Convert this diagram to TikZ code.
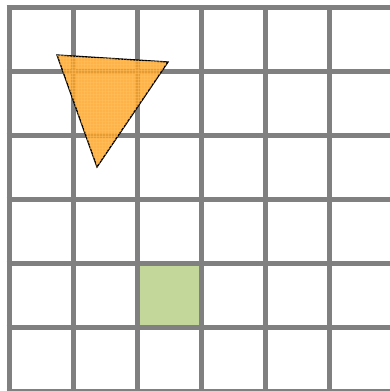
\documentclass[tikz,border=0pt]{standalone}
\usepackage{tikz}
\usetikzlibrary{patterns}
\definecolor{gridgray}{HTML}{808080}
\definecolor{cellgreen}{HTML}{C4D79B}
\definecolor{triorange}{HTML}{FFA11F}
\definecolor{lightorange}{HTML}{FFC060}
\tikzset{
  gridline/.style={draw=gridgray, line width=5pt},
  cell/.style={fill=cellgreen},
  wedge/.style={
    draw=black,
    line width=1.3pt,
    line join=miter,
    fill=triorange,
    fill opacity=0.82
  }
}

\begin{document}
\begin{tikzpicture}[x=1pt, y=1pt]
  \useasboundingbox (0,0) rectangle (390,391);

  % shaded cell
  \fill[cell] (137,63) rectangle (201,127);

  % grid
  \foreach \gx in {9,73,137,201,265,329}
    \draw[gridline] (\gx,-2) -- (\gx,385.5);
  \foreach \gy in {383,319,255,191,127,63,-1}
    \draw[gridline] (6.5,\gy) -- (392,\gy);

  % triangle
  \coordinate (tl) at (57,336);
  \coordinate (tr) at (168,329);
  \coordinate (bt) at (97,224);
  \draw[wedge] (tl) -- (tr) -- (bt) -- cycle;
  \fill[pattern=grid, pattern color=lightorange, opacity=0.5] (tl) -- (tr) -- (bt) -- cycle;
\end{tikzpicture}
\end{document}
